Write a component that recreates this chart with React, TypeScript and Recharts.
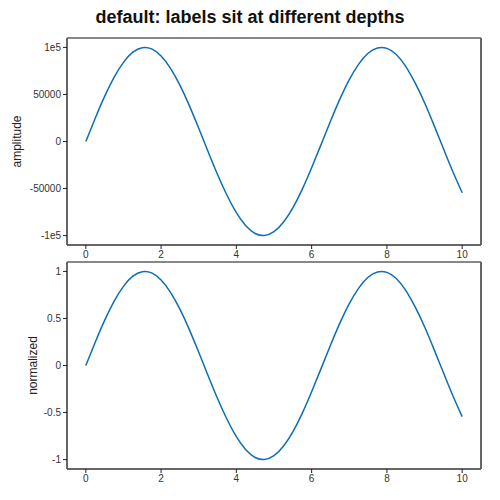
import React from 'react';
import { LineChart, Line, XAxis, YAxis, ReferenceLine } from 'recharts';

const xValues = [0, 0.25, 0.5, 0.75, 1, 1.25, 1.5, 1.75, 2, 2.25, 2.5, 2.75, 3, 3.25, 3.5, 3.75, 4, 4.25, 4.5, 4.75, 5, 5.25, 5.5, 5.75, 6, 6.25, 6.5, 6.75, 7, 7.25, 7.5, 7.75, 8, 8.25, 8.5, 8.75, 9, 9.25, 9.5, 9.75, 10];
const amplitudeValues = [0, 24740, 47943, 68164, 84147, 94898, 99749, 98399, 90930, 77807, 59847, 38166, 14112, -10820, -35078, -57156, -75680, -89499, -97753, -99929, -95892, -85893, -70554, -50835, -27942, -3318, 21512, 45062, 65699, 82290, 93800, 99417, 98936, 92472, 79849, 62238, 41212, 17433, -7515, -31910, -54402];
const normalizedValues = [0, 0.2474, 0.4794, 0.6816, 0.8415, 0.949, 0.9975, 0.984, 0.9093, 0.7781, 0.5985, 0.3817, 0.1411, -0.1082, -0.3508, -0.5716, -0.7568, -0.895, -0.9775, -0.9993, -0.9589, -0.8589, -0.7055, -0.5083, -0.2794, -0.0332, 0.2151, 0.4506, 0.657, 0.8229, 0.938, 0.9942, 0.9894, 0.9247, 0.7985, 0.6224, 0.4121, 0.1743, -0.0752, -0.3191, -0.544];
const xTicks = [0, 2, 4, 6, 8, 10];
const amplitudeTicks = [-100000, -50000, 0, 50000, 100000];
const normalizedTicks = [-1, -0.5, 0, 0.5, 1];
const titleText = 'default: labels sit at different depths';

const topData = xValues.map((x, i) => ({ x, y: amplitudeValues[i] }));
const bottomData = xValues.map((x, i) => ({ x, y: normalizedValues[i] }));

const FONT = '"Liberation Sans", Arial, sans-serif';
const LINE_COLOR = '#0a6fb5';
const FRAME = '#666666';
const X_DOMAIN: [number, number] = [-0.5, 10.5];

const fmtAmp = (v: number) => (v === 100000 ? '1e5' : v === -100000 ? '-1e5' : String(v));
const fmtNorm = (v: number) => String(v);

function makeLabel(text: string, cx: number) {
  return (props: any) => {
    const vb = props.viewBox || {};
    const cy = (vb.y || 0) + (vb.height || 0) / 2;
    return (
      <text
        x={cx}
        y={cy}
        transform={`rotate(-90, ${cx}, ${cy})`}
        textAnchor="middle"
        dominantBaseline="central"
        fontSize={12}
        fontFamily={FONT}
        fill="#222"
      >
        {text}
      </text>
    );
  };
}

const tickStyle = { fontSize: 10, fontFamily: FONT, fill: '#333' };

function Panel(props: {
  data: { x: number; y: number }[];
  height: number;
  top: number;
  marginTop: number;
  marginBottom: number;
  ticks: number[];
  domain: [number, number];
  fmt: (v: number) => string;
  label: string;
  labelX: number;
}) {
  return (
    <div style={{ position: 'absolute', left: 0, top: props.top, width: 500, height: props.height }}>
      <LineChart
        width={500}
        height={props.height}
        data={props.data}
        margin={{ top: props.marginTop, right: 19, bottom: props.marginBottom, left: 0 }}
      >
        <XAxis
          dataKey="x"
          type="number"
          domain={X_DOMAIN}
          ticks={xTicks}
          height={20}
          tickSize={4}
          tickMargin={2}
          tick={tickStyle}
          axisLine={{ stroke: FRAME, strokeWidth: 2 }}
          tickLine={{ stroke: '#222' }}
          interval={0}
          allowDataOverflow
        />
        <YAxis
          type="number"
          domain={props.domain}
          ticks={props.ticks}
          width={67}
          tickSize={4}
          tickMargin={2}
          tick={tickStyle}
          tickFormatter={props.fmt}
          axisLine={{ stroke: FRAME, strokeWidth: 2 }}
          tickLine={{ stroke: '#222' }}
          interval={0}
          allowDataOverflow
          label={{ content: makeLabel(props.label, props.labelX) } as any}
        />
        <ReferenceLine y={props.domain[1]} stroke="#111" strokeWidth={1} ifOverflow="extendDomain" />
        <ReferenceLine x={X_DOMAIN[1]} stroke={FRAME} strokeWidth={2} ifOverflow="extendDomain" />
        <Line
          type="natural"
          dataKey="y"
          stroke={LINE_COLOR}
          strokeWidth={1.5}
          dot={false}
          isAnimationActive={false}
        />
      </LineChart>
    </div>
  );
}

export default function App() {
  return (
    <div style={{ position: 'absolute', left: 0, top: 0, width: 500, height: 500, background: '#fff' }}>
      <div
        style={{
          position: 'absolute',
          left: 0,
          top: 5,
          width: 500,
          textAlign: 'center',
          fontFamily: FONT,
          fontWeight: 'bold',
          fontSize: 18,
          color: '#111',
          lineHeight: '24px',
        }}
      >
        {titleText}
      </div>
      <Panel
        data={topData}
        height={270}
        top={0}
        marginTop={38}
        marginBottom={5}
        ticks={amplitudeTicks}
        domain={[-110000, 110000]}
        fmt={fmtAmp}
        label="amplitude"
        labelX={17}
      />
      <Panel
        data={bottomData}
        height={250}
        top={250}
        marginTop={12}
        marginBottom={11}
        ticks={normalizedTicks}
        domain={[-1.1, 1.1]}
        fmt={fmtNorm}
        label="normalized"
        labelX={33}
      />
    </div>
  );
}
